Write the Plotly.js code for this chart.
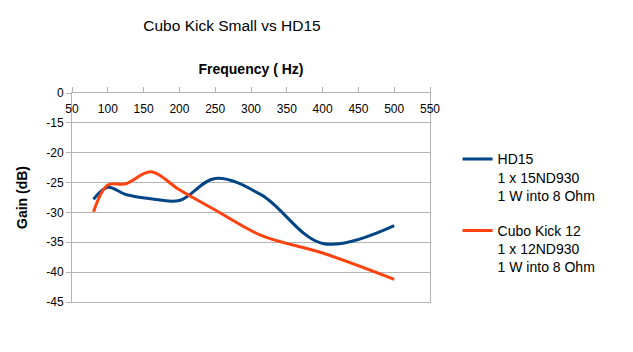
<!DOCTYPE html>
<html>
<head>
<meta charset="utf-8">
<script src="https://cdn.plot.ly/plotly-3.0.1.min.js"></script>
<style>html,body{margin:0;padding:0;background:#fff;}#chart{width:633px;height:352px;}</style>
</head>
<body>
<div id="chart"></div>
<script>
// Frequencies (Hz), 1/3-octave points
const freq = [80, 100, 125, 160, 200, 250, 315, 400, 500];
// Gain (dB)
const hd15 = [-27.8, -25.8, -27.0, -27.7, -28.0, -24.3, -27.1, -35.2, -32.2];
const cubo = [-29.9, -25.4, -25.2, -23.2, -26.2, -29.6, -33.9, -36.8, -41.2];
const seriesNames = ["HD15<br>1 x 15ND930<br>1 W into 8 Ohm", "Cubo Kick 12<br>1 x 12ND930<br>1 W into 8 Ohm"];
const xTicks = [50, 100, 150, 200, 250, 300, 350, 400, 450, 500, 550];
const yTickVals = [-10, -15, -20, -25, -30, -35, -40, -45];
const yTickText = ["0", "-15", "-20", "-25", "-30", "-35", "-40", "-45"];

const font = "Liberation Sans, Arial, sans-serif";
const traces = [
  {x: freq, y: hd15, name: seriesNames[0], type: "scatter", mode: "lines",
   line: {color: "#004586", width: 3, shape: "spline", smoothing: 1}, legendgroup: "a"},
  {x: freq, y: cubo, name: seriesNames[1], type: "scatter", mode: "lines",
   line: {color: "#ff420e", width: 3, shape: "spline", smoothing: 1}, legendgroup: "b"}
];
const layout = {
  width: 633, height: 352,
  margin: {l: 72, r: 203, t: 93, b: 50, pad: 0},
  paper_bgcolor: "#fff", plot_bgcolor: "#fff",
  font: {family: font, size: 12, color: "#000"},
  title: {text: "Cubo Kick Small vs HD15", font: {family: font, size: 15.5, color: "#000"},
          x: 0.3665, xref: "container", xanchor: "center", y: 0.927, yref: "container", yanchor: "middle"},
  xaxis: {
    range: [50, 550], side: "top", tickvals: xTicks, ticktext: xTicks.map(String),
    ticks: "outside", ticklen: 5, tickcolor: "#b3b3b3", ticklabelposition: "outside",
    ticklabelstandoff: -31,
    showline: true, linecolor: "#b3b3b3", linewidth: 1, mirror: true,
    showgrid: false, zeroline: false, fixedrange: true,
    tickfont: {family: font, size: 12, color: "#000"},
    title: {text: "<b>Frequency ( Hz)</b>", font: {family: font, size: 14, color: "#000"}, standoff: 24}
  },
  yaxis: {
    range: [-45, -10], tickvals: yTickVals, ticktext: yTickText,
    ticks: "outside", ticklen: 5, tickcolor: "#b3b3b3",
    showline: true, linecolor: "#b3b3b3", linewidth: 1, mirror: true,
    showgrid: true, gridcolor: "#b3b3b3", gridwidth: 1, zeroline: false, fixedrange: true,
    tickfont: {family: font, size: 12, color: "#000"},
    title: {text: "<b>Gain (dB)</b>", font: {family: font, size: 14, color: "#000"}, standoff: 15}
  },
  showlegend: true,
  legend: {x: 1.077, y: 0.759, xanchor: "left", yanchor: "top", valign: "top",
           font: {family: font, size: 14, color: "#000"}, tracegroupgap: 14,
           bgcolor: "rgba(0,0,0,0)"}
};
Plotly.newPlot("chart", traces, layout, {staticPlot: true, displayModeBar: false});
</script>
</body>
</html>
